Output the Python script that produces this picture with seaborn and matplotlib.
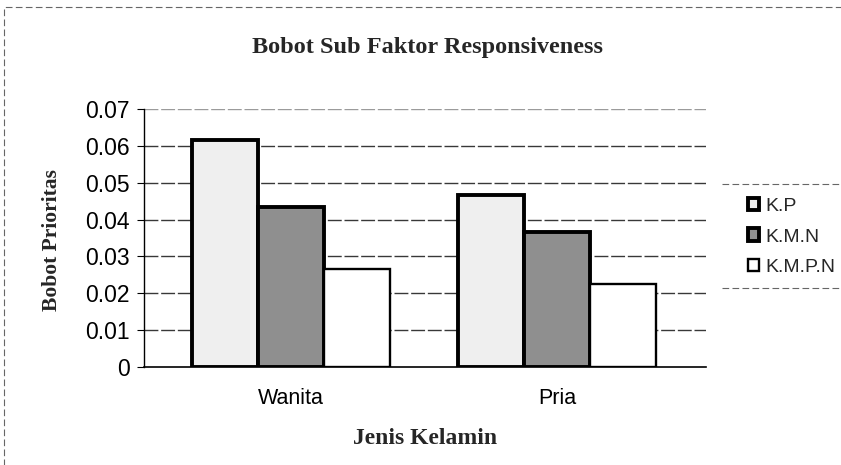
import pandas as pd
import seaborn as sns
import numpy as np
from matplotlib import pyplot as plt
from matplotlib.patches import Rectangle, Patch
from matplotlib.lines import Line2D

# data
kelamin = ["Wanita", "Pria"]
sub_faktor = ["K.P", "K.M.N", "K.M.P.N"]
kp = [0.0615, 0.0468]
kmn = [0.0433, 0.0367]
kmpn = [0.0267, 0.0225]
yticks = [0, 0.01, 0.02, 0.03, 0.04, 0.05, 0.06, 0.07]
ytick_labels = ["0", "0.01", "0.02", "0.03", "0.04", "0.05", "0.06", "0.07"]

df = pd.DataFrame({
    "Jenis Kelamin": kelamin * 3,
    "Sub": np.repeat(sub_faktor, 2),
    "Bobot": kp + kmn + kmpn,
})

sns.set_theme(style="white")
plt.rcParams["font.family"] = ["Liberation Sans", "DejaVu Sans"]

fig = plt.figure(figsize=(8.41, 4.65), dpi=100)
ax = fig.add_axes([144/841, 1-367/465, (706-144)/841, (367-109)/465])

colors = ["#efefef", "#8f8f8f", "#ffffff"]
sns.barplot(data=df, x="Jenis Kelamin", y="Bobot", hue="Sub", palette=colors,
            width=0.745, edgecolor="black", ax=ax, legend=False)

widths = [2.8, 2.8, 1.7]
for cont, lw in zip(ax.containers, widths):
    for bar in cont:
        bar.set_linewidth(lw)
        bar.set_zorder(3)

ax.set_xlim(-0.553, 1.56)
ax.set_ylim(0, 0.07)
ax.set_yticks(yticks)
ax.set_yticklabels(ytick_labels, fontsize=16.5, color="black")
ax.set_xticklabels(kelamin, fontsize=15.5, color="black")
ax.tick_params(axis="y", length=5, width=0.8, color="black", pad=5, left=True)
ax.tick_params(axis="x", length=0, pad=15)
ax.set_xlabel("")
ax.set_ylabel("")

for y in yticks[1:]:
    ax.axhline(y, color="#222222", lw=1.0, ls=(0, (10, 2)), zorder=1,
               alpha=0.9 if y < 0.07 else 0.45)

for s in ["top", "right"]:
    ax.spines[s].set_visible(False)
ax.spines["left"].set_color("black")
ax.spines["left"].set_linewidth(1.0)
ax.spines["bottom"].set_color("black")
ax.spines["bottom"].set_linewidth(1.2)

fig.text(427/841, 1-47/465, "Bobot Sub Faktor Responsiveness", ha="center", va="center",
         fontsize=17.5, fontweight="bold", family="Liberation Serif")
fig.text(52/841, 1-240/465, "Bobot Prioritas", ha="center", va="center", rotation=90,
         fontsize=15.5, fontweight="bold", family="Liberation Serif")
fig.text(425/841, 1-438/465, "Jenis Kelamin", ha="center", va="center",
         fontsize=17, fontweight="bold", family="Liberation Serif")

handles = [Patch(facecolor=c, edgecolor="black", linewidth=lw) for c, lw in zip(colors, widths)]
fig.legend(handles, sub_faktor, loc="center left", bbox_to_anchor=(738/841, 1-237/465),
           frameon=False, fontsize=14, handlelength=0.6, handleheight=0.6,
           handletextpad=0.3, labelspacing=0.7, borderpad=0)

# legend box border (dashed, only top and bottom visible)
for yy in [184, 288]:
    fig.add_artist(Line2D([722/841, 1.0], [1-yy/465, 1-yy/465], color="#666666",
                          lw=0.8, ls=(0, (6, 3))))

# outer chart border
fig.add_artist(Rectangle((4/841, -0.05), 1.0, 1.05-7/465, transform=fig.transFigure,
                         fill=False, edgecolor="#666666", lw=0.8, ls=(0, (6, 3))))

fig.savefig("out.png", dpi=100)
